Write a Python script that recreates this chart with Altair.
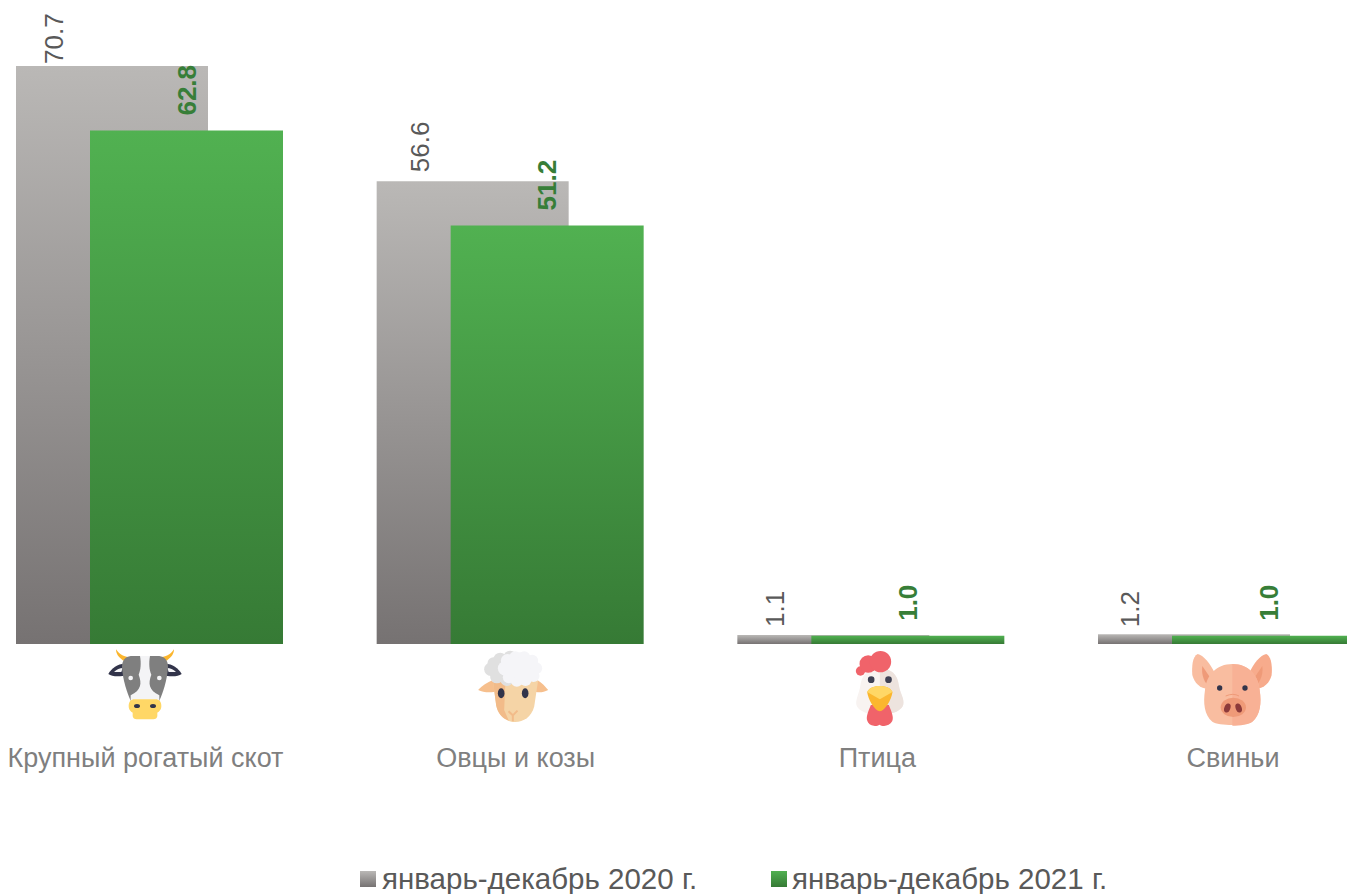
import base64
import altair as alt
import pandas as pd

categories = ["Крупный рогатый скот", "Овцы и козы", "Птица", "Свиньи"]
values_2020 = [70.7, 56.6, 1.1, 1.2]
values_2021 = [62.8, 51.2, 1.0, 1.0]
series_names = ["январь-декабрь 2020 г.", "январь-декабрь 2021 г."]

FONT = "Liberation Sans"
GRAY_TEXT = "#595959"
GREEN_TEXT = "#377e38"
CAT_TEXT = "#7f7f7f"


def grad(top, bottom):
    return alt.Gradient(
        gradient="linear", x1=0, x2=0, y1=0, y2=1,
        stops=[alt.GradientStop(color=top, offset=0), alt.GradientStop(color=bottom, offset=1)],
    )


GRAY = grad("#bab8b6", "#767272")
GREEN = grad("#51b151", "#367a35")

COW = """
<path d="M100 62 C86 52 78 42 78 28 C90 46 104 50 118 52Z" fill="#fbb62e"/>
<path d="M230 62 C244 52 252 42 252 28 C240 46 226 50 212 52Z" fill="#fbb62e"/>
<path d="M55 102 C66 82 88 68 112 72 L112 104 C90 112 66 110 55 102Z" fill="#32344a"/>
<path d="M275 102 C264 82 242 68 218 72 L218 104 C240 112 264 110 275 102Z" fill="#32344a"/>
<path d="M72 96 C80 88 90 84 98 84 L94 96Z" fill="#f5f5f7"/>
<path d="M258 96 C250 88 240 84 232 84 L236 96Z" fill="#f5f5f7"/>
<path d="M122 48 L208 48 C224 50 234 62 234 80 C232 120 218 160 208 182 L122 182 C112 160 98 120 96 80 C96 62 106 50 122 48Z" fill="#7f7f7f"/>
<path d="M150 48 L180 48 C176 70 178 90 184 104 C174 130 176 150 208 166 L208 184 L122 184 L122 166 C154 150 156 130 146 104 C152 90 154 70 150 48Z" fill="#f4f4f6"/>
<circle cx="122" cy="114" r="7" fill="#f4f4f6"/>
<circle cx="208" cy="114" r="7" fill="#f4f4f6"/>
<path d="M134 178 L196 178 C208 178 214 186 214 198 C214 210 206 216 202 218 L202 228 C202 234 196 238 190 238 L140 238 C134 238 128 234 128 228 L128 218 C124 216 116 210 116 198 C116 186 122 178 134 178Z" fill="#ffd766"/>
<ellipse cx="141" cy="198" rx="9" ry="6" fill="#32344a"/>
<ellipse cx="189" cy="198" rx="9" ry="6" fill="#32344a"/>
"""

SHEEP = """
<path d="M112 116 C90 120 66 136 54 150 C70 158 96 160 112 152Z" fill="#f6bf8d"/>
<path d="M218 116 C240 120 252 136 264 150 C248 158 232 160 218 152Z" fill="#f6bf8d"/>
<path d="M98 120 L234 120 L222 200 C214 230 190 246 165 246 C136 246 114 226 108 196Z" fill="#f5d4a6"/>
<path d="M98 120 L136 120 L132 210 L146 242 C124 236 112 216 108 196Z" fill="#f2bb89"/>
<g fill="#e0e0e0">
<circle cx="100" cy="70" r="18"/><circle cx="92" cy="88" r="20"/><circle cx="120" cy="58" r="20"/>
<circle cx="150" cy="52" r="20"/><circle cx="110" cy="110" r="20"/><circle cx="140" cy="118" r="20"/>
<circle cx="130" cy="85" r="35"/>
</g>
<g fill="#f5f5f8">
<circle cx="180" cy="85" r="48"/><circle cx="135" cy="85" r="22"/><circle cx="142" cy="62" r="20"/>
<circle cx="165" cy="52" r="18"/><circle cx="192" cy="52" r="18"/><circle cx="216" cy="62" r="18"/>
<circle cx="228" cy="85" r="18"/><circle cx="220" cy="108" r="18"/><circle cx="196" cy="120" r="18"/>
<circle cx="170" cy="122" r="18"/><circle cx="146" cy="112" r="18"/>
</g>
<ellipse cx="123" cy="160" rx="10" ry="15" fill="#32344a"/>
<ellipse cx="195" cy="160" rx="10" ry="15" fill="#32344a"/>
<path d="M145 214 L158 226 L172 212 M158 226 L158 244" fill="none" stroke="#f2bb89" stroke-width="6"/>
"""

CHICKEN = """
<path d="M165 85 C128 85 110 105 106 140 C102 160 94 175 94 190 C94 205 112 216 128 220 L202 220 C220 214 236 204 236 188 C236 170 226 160 222 135 C218 105 200 85 165 85Z" fill="#f8f3f1"/>
<path d="M165 85 C200 85 218 105 222 135 C226 160 236 170 236 188 C236 204 220 214 202 220 L165 220Z" fill="#ede3de"/>
<g fill="#f0636a">
<circle cx="107" cy="93" r="14"/><circle cx="130" cy="72" r="26"/><circle cx="167" cy="65" r="32"/>
<path d="M138 195 L192 195 C200 215 208 232 202 244 C194 260 172 260 164 254 C156 260 134 260 128 244 C122 232 130 215 138 195Z"/>
</g>
<circle cx="139" cy="119" r="10" fill="#3e4053"/>
<circle cx="191" cy="119" r="10" fill="#3e4053"/>
<path d="M127 156 C134 142 150 138 165 138 C180 138 196 142 203 156 C200 180 180 212 165 214 C150 212 130 180 127 156Z" fill="#fbb62e"/>
<path d="M127 156 C134 142 150 138 165 138 C180 138 196 142 203 156 L165 178Z" fill="#ffd766"/>
"""

PIG = """
<path d="M120 100 C105 70 85 45 68 42 C52 50 50 80 52 105 C58 130 78 148 100 145Z" fill="#f9bda0"/>
<path d="M222 100 C236 70 256 45 274 42 C290 50 292 80 290 105 C284 130 264 148 240 145Z" fill="#f7ab8c"/>
<path d="M82 78 L112 122 L102 138 C90 130 78 108 82 78Z" fill="#ef9a78"/>
<path d="M262 78 L232 122 L240 138 C252 130 266 108 262 78Z" fill="#ef9a78"/>
<path d="M172 72 C125 72 94 105 90 150 C84 190 88 225 112 245 C130 258 215 258 232 245 C256 225 260 190 254 150 C250 105 220 72 172 72Z" fill="#f9bda0"/>
<path d="M172 72 C220 72 250 105 254 150 C260 190 256 225 232 245 C222 253 195 257 172 257Z" fill="#f8b195"/>
<circle cx="134" cy="144" r="8" fill="#32344a"/>
<circle cx="210" cy="144" r="8" fill="#32344a"/>
<path d="M152 168 Q175 158 192 168" fill="none" stroke="#ef9a78" stroke-width="3"/>
<ellipse cx="175" cy="202" rx="38" ry="29" fill="#ef9a78"/>
<ellipse cx="157" cy="204" rx="9" ry="14" fill="#8c3a3a" transform="rotate(20 157 204)"/>
<ellipse cx="191" cy="204" rx="9" ry="14" fill="#8c3a3a" transform="rotate(-20 191 204)"/>
"""


def icon_uri(body):
    svg = f'<svg xmlns="http://www.w3.org/2000/svg" width="330" height="270" viewBox="0 0 330 270">{body}</svg>'
    return "data:image/svg+xml;base64," + base64.b64encode(svg.encode()).decode()


icons = [COW, SHEEP, CHICKEN, PIG]

df = pd.DataFrame({"cat": categories, "v2020": values_2020, "v2021": values_2021})
df["icon"] = [icon_uri(b) for b in icons]

x = alt.X("cat:N", sort=categories, axis=None,
          scale=alt.Scale(type="point", domain=categories, range=[141.5, 1223.5], padding=0))
yscale = alt.Scale(domain=[0, 77.79], range=[636, 0])


def y(field):
    return alt.Y(f"{field}:Q", axis=None, scale=yscale, stack=None)


base = alt.Chart(df)
layers = [
    base.mark_bar(color=GRAY, width=192, xOffset=-37.5, clip=True).encode(x=x, y=y("v2020")),
]

gray_label_shift = [(-95, 2), (-89, 9), (-95, 8), (-101, 7)]
for c, (dx, dy) in zip(categories, gray_label_shift):
    layers.append(
        base.transform_filter(alt.datum.cat == c).mark_text(
            angle=270, align="left", baseline="middle", font=FONT, fontSize=26,
            color=GRAY_TEXT, xOffset=dx, yOffset=-dy,
        ).encode(x=x, y=y("v2020"), text=alt.Text("v2020:Q", format=".1f"))
    )

layers.append(base.mark_bar(color=GREEN, width=193, xOffset=37, clip=True).encode(x=x, y=y("v2021")))
layers.append(
    base.mark_text(
        angle=270, align="left", baseline="middle", font=FONT, fontSize=26, fontWeight="bold",
        color=GREEN_TEXT, xOffset=38, yOffset=-15,
    ).encode(x=x, y=y("v2021"), text=alt.Text("v2021:Q", format=".1f"))
)

icon_shift = [-4.5, 5, 9, -1.5]
label_shift = [-4, 5.5, 6.5, 1.5]
for c, ix, lx in zip(categories, icon_shift, label_shift):
    one = base.transform_filter(alt.datum.cat == c)
    layers.append(
        one.mark_image(width=110, height=90, align="center", baseline="middle", xOffset=ix).encode(
            x=x, y=alt.value(677), url="icon:N"
        )
    )
    layers.append(
        one.mark_text(font=FONT, fontSize=27, color=CAT_TEXT, baseline="middle", align="center", xOffset=lx).encode(
            x=x, y=alt.value(751), text="cat:N"
        )
    )

legend_df = pd.DataFrame({"name": series_names})
for name, fill, sx, tx in zip(series_names, [GRAY, GREEN], [360, 771], [374, 784]):
    one = alt.Chart(legend_df).transform_filter(alt.datum.name == name)
    layers.append(one.mark_square(color=fill, fill=fill, size=256, opacity=1, filled=True).encode(
        x=alt.value(sx), y=alt.value(871)))
    layers.append(one.mark_text(font=FONT, fontSize=29.5, color=GRAY_TEXT, align="left", baseline="middle").encode(
        x=alt.value(tx), y=alt.value(872), text="name:N"))

chart = alt.layer(*layers).properties(
    width=1339, height=886, padding=0, autosize=alt.AutoSizeParams(type="none"),
).configure_view(stroke=None)

chart.save("out.html", embed_options={"renderer": "svg", "actions": False})
